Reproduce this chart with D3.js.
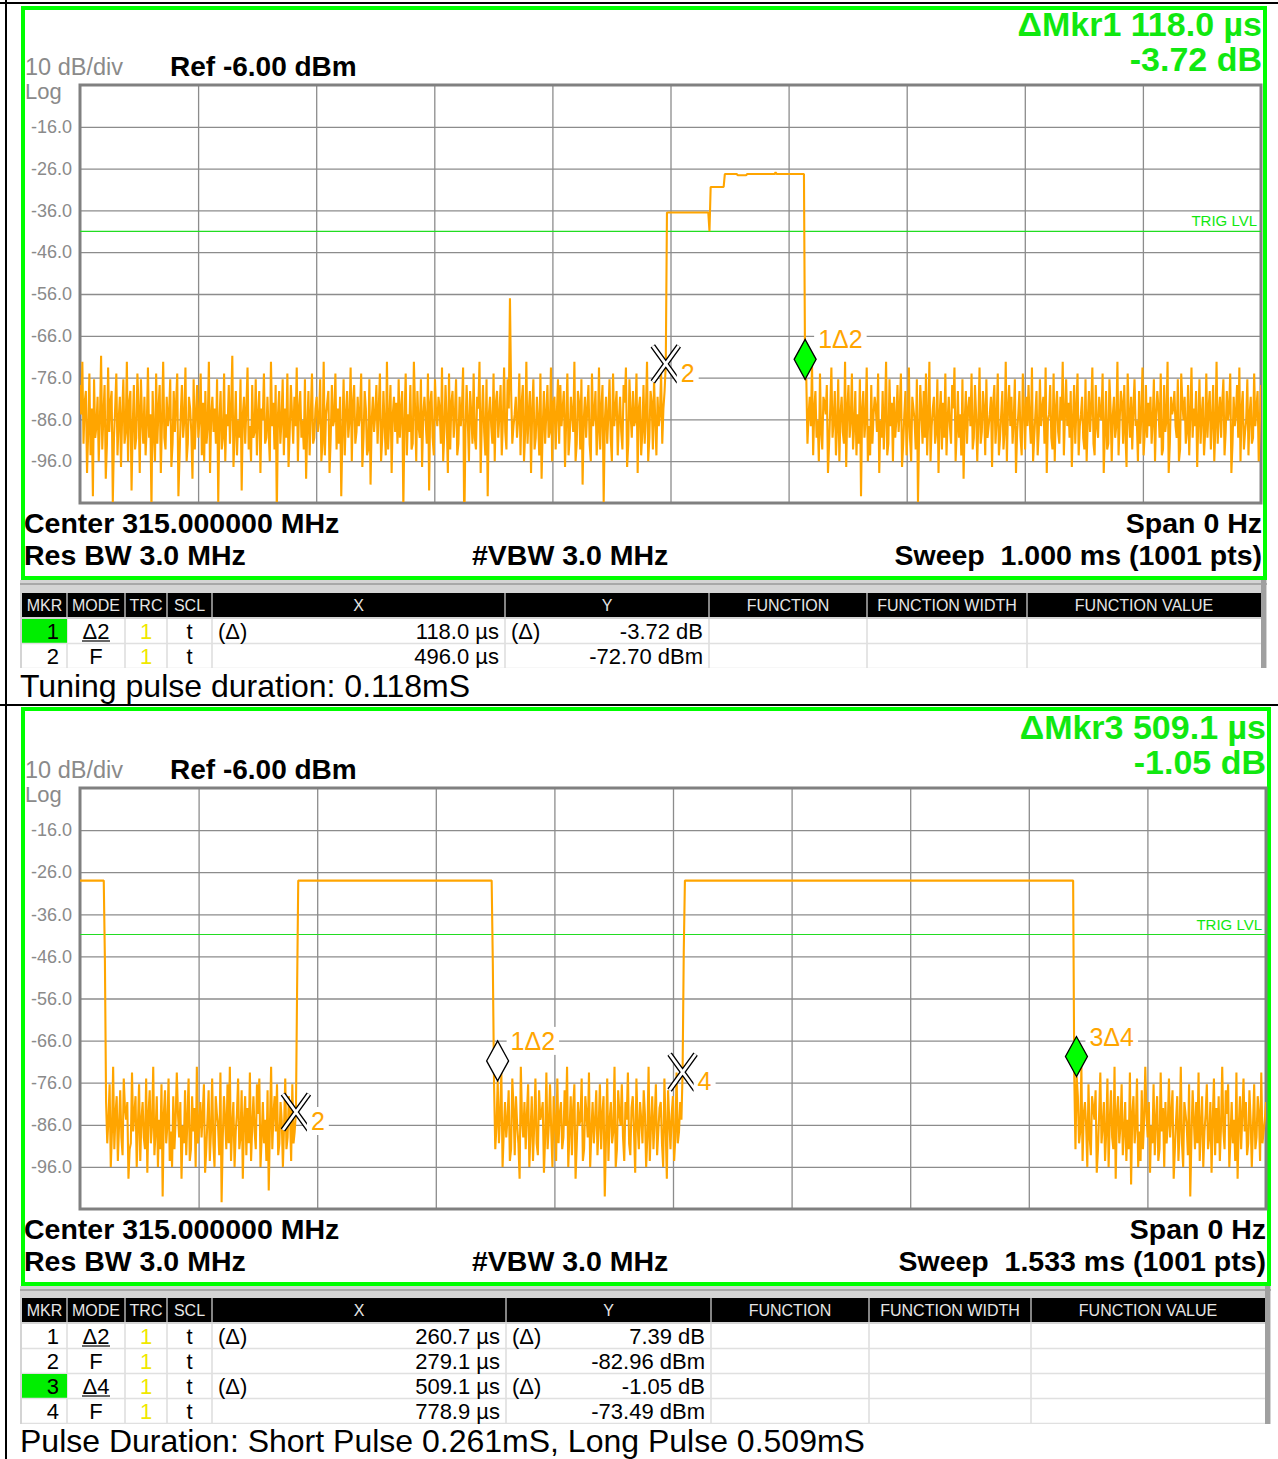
<!DOCTYPE html>
<html>
<head>
<meta charset="utf-8">
<script src="https://cdn.jsdelivr.net/npm/d3@7"></script>
<style>
  body { margin: 0; background: #fff; }
  svg { display: block; }
  text { font-family: "Liberation Sans", Arial, sans-serif; }
</style>
</head>
<body>
<svg id="chart" width="1278" height="1459"></svg>
<script>
// ---- shared axis data ----
const refLevel = -6;          // dBm, top of screen
const dbPerDiv = 10;
const yTicks = [-16, -26, -36, -46, -56, -66, -76, -86, -96];
const xDivs = 10;
const tableCols = ["MKR", "MODE", "TRC", "SCL", "X", "Y", "FUNCTION", "FUNCTION WIDTH", "FUNCTION VALUE"];

// noise strings: one base36 char per sweep point, value = noiseTop - digit * noiseStep (dBm)
const noiseTop = -68, noiseStep = 1.4;

// ---- screen 1 : tuning pulse, sweep 1.000 ms ----
const top_sweep = 1000;   // us
const top_trig = -41.0;
const top_noiseA = {from: 0, to: 495, s: [
  "7c3ha8mf5jbq6ge9kd2ic7nh4fa8rgb5jd9lc6hf3ka8pe7ig5",
  "bm6dh9je4gcs8fk5hb7md3gi9ec6lh8fa5qjc7gd4kh9bfn6ic",
  "7gd5jak8he3mc9fbh6rd8ig5kce7hb2lf8jdg6pc9hb4iek7gf",
  "6jc8mbd5hg9fk3eai7tc8hd6jbg5lf7ch9e4kb8gdi6ne8jc5h",
  "gb9fd6kh3jca8mg7ed5ibh9qf6jc8gd4ka7hf9ec5lg8bji6od",
  "9fc7hb5kg8ej3id7mc9fah6gb8sd5jcf7ih3bk8eg6lc9dh5pa",
  "8gj6ce9bh4kf7dm5ia8gc6jh9eb4wf7dk8ch5gi9b3md7fj6qc",
  "9eh5ka8gc7jd4fi6bl8hec9gd5ja7kf3hc8mb6ig9dj5ne8hc7",
  "gf4ka9ic6h7eb8ld5jg9cf3kh8ai6od9gb7hk5ec8jf4ib7rd9",
  "hc6gk5eb8jd9fi7a4lh6cg8ed5mb9jf7hc3kg8ai6dj9ec5hb8"]};
const top_pulse = [
  [496, -72.70], [497, -36.5], [532, -36.5], [533, -41.0], [534, -30.4],
  [545, -30.4], [546, -27.3], [556, -27.3], [557, -27.6], [564, -27.6],
  [565, -27.3], [588, -27.3], [589, -26.9], [590, -27.3], [613, -27.3], [614, -76.42]];
const top_noiseB = {from: 615, to: 1000, s: [
  "6hc9e3jb8gdk5fi9ac7mhb4gd8je6kc9fh3lb7gd5ie8jch6qb",
  "8gd4kej7hc9bf5mdg8ic3jh6eak9gd7fb5lhc8je4gk9bdi6rf",
  "7ch8g5jd3keb9hf6mc8iag5jd9eh7b4kf8gcj6nd8hb9e5ig7c",
  "kd4hf8bj6gec9la7hd5jgc8if3kb7e9hd6mfc8gj5bi9e7dh4k",
  "gc8jf6eb9h4mdc7gi5kb8fh9d3jc6eag8ld7hb5jec9gi6kd8f",
  "b4hj7eg9cd5mf8ih6bkc9ge3jd8ah7fl5cg9ib6edk8hc4jf7g",
  "ae9hd6kc8bg5ji7fd3mh9cb8eg6ki5ad9hf7jc4gbe8ld6hc9j",
  "f5gb8id7ke3hc9ga6jf8db5mh9ec7g4kb8ifd6jc9hg5eb8kd7"]};
const top_spikes = [[364, -57.0]];
const top_markers = [
  {n: 1, mode: "delta", ref: 2, t: 614.0, v: -76.42},
  {n: 2, mode: "fixed", t: 496.0, v: -72.70}];
const top_active = 1;
const top_caption = "Tuning pulse duration: 0.118mS";

// ---- screen 2 : short / long pulse, sweep 1.533 ms ----
const bot_sweep = 1533;   // us
const bot_trig = -40.8;
const bot_lead = [[0, -28.0], [30.7, -28.0], [32.2, -47.0]];
const bot_noiseA = {from: 33.7, to: 277.5, s: [
  "9gc6ke3hb8jd7fi5ac9mhg4eb8kd6jc9fh5lb7gd3ie8kch6pb",
  "7gd5jek8hc4bf9mdg7ic5jh8eak3gd9fb6lhc7je5gk8bdi4qf",
  "8ch6g3jd9keb5hf7mc8iag4jd8eh6b5kf9gcj7od3hb8e6ig9c",
  "kd5hf8bj6ge"]};
const bot_pulse1 = [[279.1, -82.96], [280.6, -54.2], [282.1, -28.0], [532.1, -28.0], [533.6, -47.6]];
const bot_noiseB = {from: 535.2, to: 777.4, s: [
  "6hd8gb4ke9fc7jh5ai8dgm3cf9hb6ke8jd5gi7cb9lf4hd6ek8",
  "cj5gb9hf7d3ke8ia6mg9dc5jh8bf4ke9gc7id6hb8pf5jc9ge3",
  "kh7bd6fj9c4gia8el5dh9cg7bkf3jd8hc6iea9gk5dm7chb8jf",
  "4ge9c"]};
const bot_pulse2 = [[778.9, -73.49], [780.4, -45.0], [781.9, -28.0], [1283.7, -28.0]];
const bot_noiseC = {from: 1285.2, to: 1533, s: [
  "5hc8ge3jb9dk6fi8ac7lhb4gd9je5kc7fh3mb8gd6ie9jch4nb",
  "8gd5kej7hc3bf9ldg6ic8jh4eak9gd5fb7mhc8je3gk9bdi6pf",
  "7ch9g4jd8keb6hf9lc5iag8jd3eh7b6kf9gcj4md8hb5e9ig7c",
  "kd6hf8bj4gec9"]};
const bot_markers = [
  {n: 1, mode: "delta", ref: 2, t: 539.8, v: -75.57},
  {n: 2, mode: "fixed", t: 279.1, v: -82.96},
  {n: 3, mode: "delta", ref: 4, t: 1288.0, v: -74.54},
  {n: 4, mode: "fixed", t: 778.9, v: -73.49}];
const bot_active = 3;
const bot_caption = "Pulse Duration: Short Pulse 0.261mS, Long Pulse 0.509mS";

// ---------------------------------------------------------------
const loc = d3.formatLocale({decimal: ".", thousands: ",", grouping: [3], currency: ["", ""], minus: "-"});
const f1 = loc.format(".1f"), f2 = loc.format(".2f"), f3 = loc.format(".3f");
const svg = d3.select("#chart");
const ORANGE = "#ffa500", GREEN = "#00ff00", TXTGREEN = "#10e810";

function noise(seg) {
  const s = seg.s.join("");
  const n = s.length;
  return Array.from(s, (c, i) => [seg.from + (seg.to - seg.from) * i / (n - 1), noiseTop - parseInt(c, 36) * noiseStep]);
}

function withOverrides(trace, pts) {
  pts.forEach(p => {
    const i = d3.leastIndex(trace, d => Math.abs(d[0] - p[0]));
    trace[i] = [trace[i][0], p[1]];
  });
  return trace;
}

// page lines
svg.append("line").attr("x1", 0).attr("x2", 1278).attr("y1", 3).attr("y2", 3).attr("stroke", "#000").attr("stroke-width", 2);
svg.append("line").attr("x1", 6).attr("x2", 6).attr("y1", 0).attr("y2", 1459).attr("stroke", "#000").attr("stroke-width", 2);
svg.append("line").attr("x1", 0).attr("x2", 1278).attr("y1", 705).attr("y2", 705).attr("stroke", "#000").attr("stroke-width", 2);

function drawPanel(p) {
  const g = svg.append("g");
  const x = d3.scaleLinear().domain([0, p.sweep]).range([p.plot.l, p.plot.r]);
  const y = d3.scaleLinear().domain([refLevel - dbPerDiv * 10, refLevel]).range([p.plot.b, p.plot.t]);
  const iw = p.plot.r - p.plot.l, ih = p.plot.b - p.plot.t;

  g.append("rect")
    .attr("x", p.frame.l).attr("y", p.frame.t)
    .attr("width", p.frame.r - p.frame.l).attr("height", p.frame.b - p.frame.t)
    .attr("fill", "none").attr("stroke", GREEN).attr("stroke-width", 4);

  // grid
  const gy = g.append("g").attr("transform", `translate(${p.plot.l},0)`)
    .call(d3.axisLeft(y).tickValues(yTicks).tickSize(-iw).tickPadding(8).tickFormat(f1));
  gy.select(".domain").remove();
  gy.selectAll("line").attr("stroke", "#8c8c8c").attr("stroke-width", 1.3);
  gy.selectAll("text").attr("fill", "#8a8a8a").attr("font-size", 18)
    .attr("font-family", "'Liberation Sans', Arial, sans-serif");

  const gx = g.append("g").attr("transform", `translate(0,${p.plot.t})`)
    .call(d3.axisBottom(x).tickValues(d3.range(1, xDivs).map(i => p.sweep * i / xDivs)).tickSize(ih).tickFormat(""));
  gx.select(".domain").remove();
  gx.selectAll("line").attr("stroke", "#8c8c8c").attr("stroke-width", 1.3);

  g.append("rect").attr("x", p.plot.l).attr("y", p.plot.t).attr("width", iw).attr("height", ih)
    .attr("fill", "none").attr("stroke", "#808080").attr("stroke-width", 3);

  // trigger level
  g.append("line").attr("x1", p.plot.l).attr("x2", p.plot.r)
    .attr("y1", y(p.trig)).attr("y2", y(p.trig)).attr("stroke", "#22dd22").attr("stroke-width", 1.2);
  g.append("text").attr("x", p.plot.r - 4).attr("y", y(p.trig) - 5).attr("text-anchor", "end")
    .attr("font-size", 15).attr("fill", TXTGREEN).text("TRIG LVL");

  // trace
  const clipId = "clip" + p.id;
  svg.append("clipPath").attr("id", clipId).append("rect")
    .attr("x", p.plot.l).attr("y", p.plot.t).attr("width", iw).attr("height", ih - 1);
  const line = d3.line().x(d => x(d[0])).y(d => y(d[1]));
  g.append("path").datum(p.trace).attr("clip-path", `url(#${clipId})`)
    .attr("fill", "none").attr("stroke", ORANGE).attr("stroke-width", 2.1)
    .attr("stroke-linejoin", "bevel").attr("d", line);

  // markers
  const byN = new Map(p.markers.map(m => [m.n, m]));
  p.markers.forEach(m => {
    const cx = x(m.t), cy = y(m.v);
    let label, lx, ly;
    if (m.mode === "delta") {
      g.append("path")
        .attr("d", `M${cx},${cy}L${cx - 11},${cy - 20}L${cx},${cy - 40}L${cx + 11},${cy - 20}Z`)
        .attr("fill", m.n === p.active ? GREEN : "#fff").attr("stroke", "#000").attr("stroke-width", 1.3);
      label = m.n + "Δ" + m.ref; lx = cx + 13; ly = cy - 31;
    } else {
      const d = `M${cx - 13},${cy - 18}L${cx + 13},${cy + 18}M${cx + 13},${cy - 18}L${cx - 13},${cy + 18}`;
      g.append("path").attr("d", d).attr("stroke", "#000").attr("stroke-width", 5.5).attr("fill", "none");
      g.append("path").attr("d", d).attr("stroke", "#fff").attr("stroke-width", 2.8).attr("fill", "none");
      label = String(m.n); lx = cx + 15; ly = cy + 18;
    }
    const t = g.append("text").attr("x", lx).attr("y", ly).attr("font-size", 25).attr("fill", ORANGE).text(label);
    const bb = t.node().getBBox();
    g.insert("rect", () => t.node()).attr("x", bb.x - 4).attr("y", bb.y).attr("width", bb.width + 8)
      .attr("height", bb.height).attr("fill", "#fff");
  });

  // headline (active marker)
  const am = byN.get(p.active), rm = byN.get(am.ref);
  g.append("text").attr("x", p.frame.r - 3).attr("y", p.plot.t - 49).attr("text-anchor", "end")
    .attr("font-size", 34).attr("font-weight", "bold").attr("fill", TXTGREEN)
    .text(`ΔMkr${am.n} ${f1(am.t - rm.t)} µs`);
  g.append("text").attr("x", p.frame.r - 3).attr("y", p.plot.t - 14).attr("text-anchor", "end")
    .attr("font-size", 34).attr("font-weight", "bold").attr("fill", TXTGREEN)
    .text(`${f2(am.v - rm.v)} dB`);

  g.append("text").attr("x", 25).attr("y", p.plot.t - 10).attr("font-size", 23.5).attr("fill", "#8a8a8a")
    .text(`${dbPerDiv} dB/div`);
  g.append("text").attr("x", 25).attr("y", p.plot.t + 14).attr("font-size", 22).attr("fill", "#8a8a8a").text("Log");
  g.append("text").attr("x", 170).attr("y", p.plot.t - 9).attr("font-size", 28).attr("font-weight", "bold")
    .text(`Ref ${f2(refLevel)} dBm`);

  const bl = [
    {x: 24, y: 30, a: "start", s: "Center 315.000000 MHz"},
    {x: 24, y: 62, a: "start", s: "Res BW 3.0 MHz"},
    {x: 472, y: 62, a: "start", s: "#VBW 3.0 MHz"},
    {x: p.frame.r - 3, y: 30, a: "end", s: "Span 0 Hz"},
    {x: p.frame.r - 3, y: 62, a: "end", s: `Sweep  ${f3(p.sweep / 1000)} ms (1001 pts)`}];
  bl.forEach(b => g.append("text").attr("x", b.x).attr("y", p.plot.b + b.y).attr("text-anchor", b.a)
    .attr("font-size", 28.5).attr("font-weight", "bold").style("white-space", "pre").text(b.s));

  drawTable(p);

  g.append("text").attr("x", 20).attr("y", p.caption.y).attr("font-size", 32).text(p.caption.s);
}

function drawTable(p) {
  const tb = p.table, c = tb.cols;
  const g = svg.append("g");
  const x0 = c[0], x1 = c[c.length - 1];
  const clipId = "tclip" + p.id;
  svg.append("clipPath").attr("id", clipId).append("rect")
    .attr("x", 0).attr("y", tb.top).attr("width", 1278).attr("height", tb.bottom - tb.top);
  g.attr("clip-path", `url(#${clipId})`);

  g.append("rect").attr("x", x0 - 2).attr("y", tb.top).attr("width", x1 - x0 + 8).attr("height", tb.bottom - tb.top)
    .attr("fill", "#d4d4d4");
  g.append("line").attr("x1", x0 - 2).attr("x2", x1 + 6).attr("y1", tb.top + 4).attr("y2", tb.top + 4)
    .attr("stroke", "#a8a8a8").attr("stroke-width", 2);
  g.append("rect").attr("x", x0).attr("y", tb.head).attr("width", x1 - x0).attr("height", 24).attr("fill", "#000");
  const bodyTop = tb.head + 26;
  g.append("rect").attr("x", x0).attr("y", bodyTop).attr("width", x1 - x0).attr("height", 200).attr("fill", "#fff");

  tableCols.forEach((name, i) => {
    if (i > 0) {
      g.append("line").attr("x1", c[i]).attr("x2", c[i]).attr("y1", tb.head).attr("y2", tb.head + 24)
        .attr("stroke", "#b0b0b0").attr("stroke-width", 1.5);
      g.append("line").attr("x1", c[i]).attr("x2", c[i]).attr("y1", bodyTop).attr("y2", bodyTop + 200)
        .attr("stroke", "#dcdcdc").attr("stroke-width", 1.5);
    }
    g.append("text").attr("x", (c[i] + c[i + 1]) / 2).attr("y", tb.head + 18).attr("text-anchor", "middle")
      .attr("font-size", 16).attr("fill", "#e6e6e6")
      .attr("font-family", "'Liberation Sans Narrow', 'DejaVu Sans Condensed', sans-serif")
      .style("font-stretch", "condensed").text(name);
  });

  const byN = new Map(p.markers.map(m => [m.n, m]));
  const rows = p.markers.slice().sort((a, b) => a.n - b.n);
  rows.forEach((m, r) => {
    const ry = bodyTop + r * 25;
    const by = ry + 20;
    if (m.n === p.active) {
      g.append("rect").attr("x", c[0]).attr("y", ry).attr("width", c[1] - c[0]).attr("height", 24).attr("fill", "#00ee00");
    }
    g.append("line").attr("x1", x0).attr("x2", x1).attr("y1", ry + 24.5).attr("y2", ry + 24.5)
      .attr("stroke", "#e0e0e0").attr("stroke-width", 1.5);
    const delta = m.mode === "delta";
    const rm = delta ? byN.get(m.ref) : null;
    const cells = [
      {x: c[1] - 8, a: "end", s: String(m.n)},
      {x: (c[1] + c[2]) / 2, a: "middle", s: delta ? "Δ" + m.ref : "F"},
      {x: (c[2] + c[3]) / 2, a: "middle", s: "1", fill: "#f0e800"},
      {x: (c[3] + c[4]) / 2, a: "middle", s: "t"},
      {x: c[4] + 6, a: "start", s: delta ? "(Δ)" : ""},
      {x: c[5] - 6, a: "end", s: (delta ? f1(m.t - rm.t) : f1(m.t)) + " µs"},
      {x: c[5] + 6, a: "start", s: delta ? "(Δ)" : ""},
      {x: c[6] - 6, a: "end", s: delta ? f2(m.v - rm.v) + " dB" : f2(m.v) + " dBm"}];
    cells.forEach(cl => g.append("text").attr("x", cl.x).attr("y", by).attr("text-anchor", cl.a)
      .attr("font-size", 22).attr("fill", cl.fill || "#000").text(cl.s));
    if (delta) {
      g.append("line").attr("x1", (c[1] + c[2]) / 2 - 14).attr("x2", (c[1] + c[2]) / 2 + 14)
        .attr("y1", by + 2).attr("y2", by + 2).attr("stroke", "#000").attr("stroke-width", 1.2);
    }
  });
  g.append("rect").attr("x", x1).attr("y", tb.top).attr("width", 5).attr("height", tb.bottom - tb.top).attr("fill", "#a0a0a0");
}

const top_trace = withOverrides(
  [...noise(top_noiseA), ...top_pulse, ...noise(top_noiseB)], top_spikes);
const bot_trace = withOverrides(
  [...bot_lead, ...noise(bot_noiseA), ...bot_pulse1, ...noise(bot_noiseB), ...bot_pulse2, ...noise(bot_noiseC)],
  bot_markers.map(m => [m.t, m.v]));

drawPanel({
  id: 1, sweep: top_sweep, trig: top_trig, trace: top_trace, markers: top_markers, active: top_active,
  frame: {l: 23, r: 1265, t: 8, b: 578},
  plot: {l: 80, r: 1261, t: 85, b: 503},
  table: {top: 580, head: 593, bottom: 668, cols: [22, 67, 125, 167, 212, 505, 709, 867, 1027, 1261]},
  caption: {y: 697, s: top_caption}
});
drawPanel({
  id: 2, sweep: bot_sweep, trig: bot_trig, trace: bot_trace, markers: bot_markers, active: bot_active,
  frame: {l: 23, r: 1269, t: 709, b: 1284},
  plot: {l: 80, r: 1266, t: 788, b: 1209},
  table: {top: 1286, head: 1298, bottom: 1424, cols: [22, 67, 125, 167, 212, 506, 711, 869, 1031, 1265]},
  caption: {y: 1452, s: bot_caption}
});
</script>
</body>
</html>
